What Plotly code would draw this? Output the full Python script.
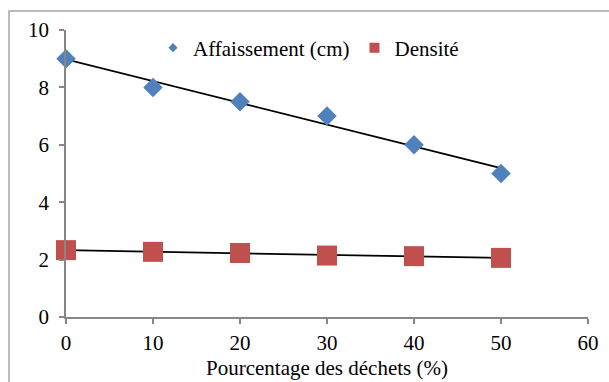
import numpy as np
import plotly.graph_objects as go

x_pct = [0, 10, 20, 30, 40, 50]
affaissement = [9, 8, 7.5, 7, 6, 5]
densite = [2.33, 2.27, 2.23, 2.14, 2.12, 2.06]
x_ticks = [0, 10, 20, 30, 40, 50, 60]
y_ticks = [0, 2, 4, 6, 8, 10]

BLUE = "#4F81BD"
RED = "#C0504D"
FONT = "Times New Roman, Liberation Serif, serif"
FS = 21

fig = go.Figure()

def trend(xs, ys):
    a, b = np.polyfit(xs, ys, 1)
    xt = [min(xs), max(xs)]
    return xt, [a * v + b for v in xt]

tx, ty = trend(x_pct, affaissement)
fig.add_trace(go.Scatter(x=tx, y=ty, mode="lines", line=dict(color="black", width=1.8),
                         showlegend=False, hoverinfo="skip", cliponaxis=False))
tx2, ty2 = trend(x_pct, densite)
fig.add_trace(go.Scatter(x=tx2, y=ty2, mode="lines", line=dict(color="black", width=1.8),
                         showlegend=False, hoverinfo="skip", cliponaxis=False))

fig.add_trace(go.Scatter(x=x_pct, y=affaissement, mode="markers", name="Affaissement (cm)",
                         marker=dict(symbol="diamond", size=15, color=BLUE), showlegend=False,
                         cliponaxis=False))
fig.add_trace(go.Scatter(x=x_pct, y=densite, mode="markers", name="Densité",
                         marker=dict(symbol="square", size=20, color=RED), showlegend=False,
                         cliponaxis=False))

# legend-only entries with smaller symbols
fig.add_trace(go.Scatter(x=[None], y=[None], mode="markers", name="Affaissement (cm)",
                         marker=dict(symbol="diamond", size=7, color=BLUE)))
fig.add_trace(go.Scatter(x=[None], y=[None], mode="markers", name="Densité",
                         marker=dict(symbol="square", size=10, color=RED)))

W, H = 609, 382
L, R, T, B = 66, 21, 30, 65
pw, ph = W - L - R, H - T - B

def px_x(p):
    return (p - L) / pw

def px_y(p):
    return (H - B - p) / ph

fig.add_shape(type="rect", xref="paper", yref="paper",
              x0=px_x(9), x1=px_x(640), y0=px_y(420), y1=px_y(11),
              line=dict(color="#A6A6A6", width=1.5), fillcolor="rgba(0,0,0,0)", layer="below")

axis_common = dict(showgrid=False, zeroline=False, showline=True, linecolor="#868686",
                   linewidth=1.5, ticks="outside", ticklen=5, tickcolor="#868686", tickwidth=1.5,
                   tickfont=dict(family=FONT, size=FS, color="black"), automargin=False)

fig.update_layout(
    width=W, height=H,
    margin=dict(l=L, r=R, t=T, b=B, pad=0),
    paper_bgcolor="white", plot_bgcolor="white",
    font=dict(family=FONT, size=FS, color="black"),
    showlegend=True,
    legend=dict(orientation="h", x=px_x(153), xanchor="left", y=px_y(48), yanchor="middle",
                font=dict(family=FONT, size=FS, color="black"), bgcolor="rgba(0,0,0,0)",
                itemwidth=30, tracegroupgap=0),
    xaxis=dict(range=[0, 60], tickvals=x_ticks, ticktext=[str(v) for v in x_ticks],
               title=dict(text="Pourcentage des déchets (%)", font=dict(family=FONT, size=FS), standoff=6),
               ticklabelstandoff=1, **axis_common),
    yaxis=dict(range=[0, 10], tickvals=y_ticks, ticktext=[str(v) for v in y_ticks],
               ticklabelstandoff=6, **axis_common),
)

fig.write_html("out.html")
